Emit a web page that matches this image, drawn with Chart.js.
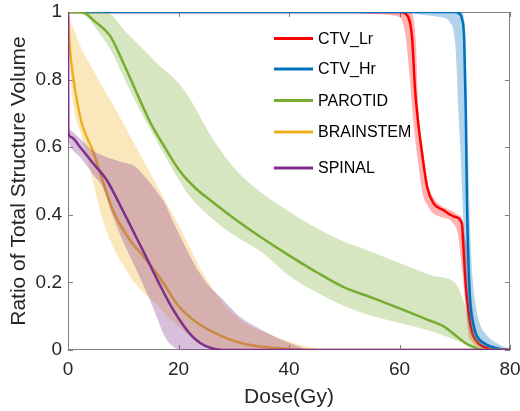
<!DOCTYPE html>
<html>
<head>
<meta charset="utf-8">
<script src="https://cdn.jsdelivr.net/npm/chart.js@4.4.0/dist/chart.umd.min.js"></script>
<style>
  body { margin: 0; background: #fff; }
</style>
</head>
<body>
<canvas id="dvh" width="520" height="411"></canvas>
<script>
// structures, in legend order
const names = ['CTV_Lr', 'CTV_Hr', 'PAROTID', 'BRAINSTEM', 'SPINAL'];
const lineColors = ['#FF0000', '#0072BD', '#77AC30', '#EDB120', '#7E2F8E'];
const bandColors = ['rgba(255,0,0,0.3)', 'rgba(0,114,189,0.3)', 'rgba(119,172,48,0.3)',
                    'rgba(237,177,32,0.3)', 'rgba(126,47,142,0.3)'];

const xTicks = [0, 20, 40, 60, 80];
const yTicks = [0, 0.2, 0.4, 0.6, 0.8, 1];

// CTV_Lr
const lrDose = [0,60,61.4,62,62.3,62.8,63.4,64.1,65,66.1,67.9,70,71.3,71.5,72,72.5,73.1,74,74.6,76.4,78,80];
const lrMean = [1,1,0.99,0.96,0.92,0.775,0.67,0.58,0.483,0.435,0.414,0.394,0.375,0.325,0.19,0.11,0.053,0.025,0.015,0.003,0,0];
const lrBandDose = [0,44,52,56,60,61,61.5,62,62.5,63,63.4,64.2,65,66,67.3,69.7,70.6,71.3,71.9,72.4,73.1,74.2,75,76.4,78,79,80];
const lrLow  = [1,1,0.997,0.993,0.985,0.94,0.87,0.775,0.675,0.6,0.55,0.46,0.43,0.405,0.395,0.375,0.34,0.24,0.14,0.053,0.025,0.01,0.003,0.001,0,0,0];
const lrHigh = [1,1,1,1,1,1,1,1,0.985,0.9,0.72,0.6,0.5,0.455,0.43,0.41,0.4,0.39,0.33,0.3,0.14,0.044,0.03,0.015,0.004,0,0];

// CTV_Hr
const hrDose = [0,70,70.8,71.3,71.7,72,72.2,72.5,72.8,73.2,73.7,74.5,75.8,78.2,80];
const hrMean = [1,1,0.995,0.98,0.92,0.7,0.45,0.25,0.142,0.09,0.053,0.03,0.015,0.003,0];
const hrBandDose = [0,58,61.4,64,67.3,69.1,70,70.4,70.6,71,71.5,71.6,72,72.4,72.8,73.2,73.7,74.5,75.8,78.2,80];
const hrLow  = [1,1,0.997,0.992,0.985,0.97,0.92,0.82,0.725,0.6,0.4,0.36,0.2,0.1,0.067,0.045,0.032,0.016,0.006,0,0];
const hrHigh = [1,1,1,1,1,1,1,1,1,1,0.995,0.99,0.9,0.6,0.35,0.22,0.142,0.08,0.044,0.015,0.003];

// PAROTID
const parDose = [0,2.5,5,7.6,10,13,15,17.5,20,23,26,30,35,40,45,50,55,60,65,68,70,72,74,75,80];
const parMean = [1,1,0.97,0.93,0.85,0.74,0.67,0.6,0.535,0.48,0.44,0.39,0.333,0.28,0.23,0.185,0.155,0.123,0.09,0.07,0.045,0.02,0.005,0,0];
const parBandDose = [0,3,6,8,10,13,16,20,22,26,30,35,40,44,50,54,58,62,66,70,71.5,73,74,75,76,80];
const parLow  = [1,0.99,0.93,0.88,0.81,0.71,0.62,0.505,0.455,0.39,0.34,0.29,0.22,0.18,0.13,0.106,0.088,0.072,0.054,0.03,0.02,0.006,0,0,0,0];
const parHigh = [1,1,1,0.99,0.95,0.9,0.85,0.79,0.745,0.63,0.54,0.465,0.41,0.37,0.32,0.296,0.27,0.245,0.22,0.2,0.15,0.06,0.03,0.01,0,0];

// BRAINSTEM
const bsDose = [0,0.3,1,2.5,4.5,6.3,8.1,11,14,17,20,23,26,29,32,36,40,45,80];
const bsMean = [1,0.9,0.8,0.67,0.59,0.5,0.414,0.33,0.27,0.205,0.13,0.085,0.055,0.033,0.018,0.008,0.003,0,0];
const bsBandDose = [0,0.5,1,2.5,4.5,6,8,10,12,14,16,18,20,22,24,28,32,36,40,44,47,80];
const bsLow  = [1,0.8,0.72,0.63,0.5,0.4,0.31,0.25,0.2,0.165,0.135,0.1,0.07,0.04,0.015,0,0,0,0,0,0,0];
const bsHigh = [1,0.97,0.95,0.89,0.83,0.785,0.73,0.67,0.61,0.55,0.49,0.43,0.37,0.305,0.24,0.14,0.08,0.05,0.025,0.008,0,0];

// SPINAL
const spDose = [0,0.05,0.5,2.2,4.5,7,10,12,14,16.7,19,21,22.5,24,26,28,80];
const spMean = [1,0.645,0.63,0.6,0.553,0.503,0.41,0.345,0.28,0.19,0.12,0.07,0.04,0.02,0.005,0,0];
const spBandDose = [0,0.5,2.2,4.5,6.3,8,10,12,14.3,16,17.5,19,20.5,23,25,28,31,35,38,41,44,80];
const spLow  = [0.62,0.6,0.57,0.52,0.48,0.4,0.32,0.25,0.168,0.1,0.04,0.01,0,0,0,0,0,0,0,0,0,0];
const spHigh = [0.655,0.65,0.625,0.59,0.575,0.565,0.555,0.545,0.505,0.47,0.435,0.38,0.33,0.25,0.2,0.15,0.1,0.06,0.035,0.015,0,0];

const structs = [
  [lrDose, lrMean, lrBandDose, lrLow, lrHigh],
  [hrDose, hrMean, hrBandDose, hrLow, hrHigh],
  [parDose, parMean, parBandDose, parLow, parHigh],
  [bsDose, bsMean, bsBandDose, bsLow, bsHigh],
  [spDose, spMean, spBandDose, spLow, spHigh]
];

function pts(xs, ys) {
  return xs.map((x, i) => ({x: x, y: ys[i]}));
}

// band then mean line for each structure, later ones drawn on top
const datasets = [];
structs.forEach((s, k) => {
  datasets.push({label: names[k] + ' low', data: pts(s[2], s[3]), borderWidth: 0,
                 pointRadius: 0, fill: false});
  datasets.push({label: names[k] + ' high', data: pts(s[2], s[4]), borderWidth: 0,
                 pointRadius: 0, fill: '-1', backgroundColor: bandColors[k]});
  datasets.push({label: names[k], data: pts(s[0], s[1]), borderColor: lineColors[k],
                 borderWidth: 2.5, pointRadius: 0, fill: false});
});
datasets.forEach((d, i) => { d.order = datasets.length - i; });

const FONT = 'Liberation Sans, Arial, Helvetica, sans-serif';
const TEXT = '#262626';
Chart.defaults.font.family = FONT;

// box round the axes with inward ticks (MATLAB style)
const boxPlugin = {
  id: 'box',
  beforeDatasetsDraw(chart) {
    const {ctx, chartArea: a, scales: {x, y}} = chart;
    ctx.save();
    ctx.strokeStyle = '#808080';
    ctx.lineWidth = 1;
    ctx.strokeRect(a.left + 0.5, a.top + 0.5, a.right - a.left - 1, a.bottom - a.top - 1);
    ctx.beginPath();
    xTicks.forEach(v => {
      const px = Math.round(x.getPixelForValue(v)) + 0.5;
      ctx.moveTo(px, a.bottom); ctx.lineTo(px, a.bottom - 5);
      ctx.moveTo(px, a.top); ctx.lineTo(px, a.top + 5);
    });
    yTicks.forEach(v => {
      const py = Math.round(y.getPixelForValue(v)) + 0.5;
      ctx.moveTo(a.left, py); ctx.lineTo(a.left + 5, py);
      ctx.moveTo(a.right, py); ctx.lineTo(a.right - 5, py);
    });
    ctx.stroke();
    ctx.restore();
  }
};

// legend inside the plot, no frame
const legendPlugin = {
  id: 'innerLegend',
  afterDraw(chart) {
    const ctx = chart.ctx;
    const rows = [38.5, 69, 100.5, 132, 168];
    ctx.save();
    ctx.font = '16px ' + FONT;
    ctx.textBaseline = 'middle';
    ctx.textAlign = 'left';
    names.forEach((n, k) => {
      ctx.strokeStyle = lineColors[k];
      ctx.lineWidth = 3;
      ctx.beginPath();
      ctx.moveTo(274, rows[k]);
      ctx.lineTo(313, rows[k]);
      ctx.stroke();
      ctx.fillStyle = '#000';
      ctx.fillText(n, 318, rows[k] + 1);
    });
    ctx.restore();
  }
};

new Chart(document.getElementById('dvh').getContext('2d'), {
  type: 'line',
  data: {datasets: datasets},
  plugins: [boxPlugin, legendPlugin],
  options: {
    responsive: false,
    animation: false,
    layout: {padding: {top: 12, right: 10, left: 0, bottom: 0}},
    plugins: {legend: {display: false}, tooltip: {enabled: false}},
    elements: {line: {tension: 0, cubicInterpolationMode: 'monotone'}, point: {radius: 0}},
    scales: {
      x: {
        type: 'linear', min: 0, max: 80,
        afterFit: s => { s.height = 61; s.paddingLeft = 0; s.paddingRight = 0; },
        grid: {display: false, drawTicks: false},
        border: {display: false},
        ticks: {stepSize: 20, maxRotation: 0, padding: 8, color: TEXT, font: {size: 19}},
        title: {display: true, text: 'Dose(Gy)', color: TEXT, font: {size: 21},
                padding: {top: 0, bottom: 1}}
      },
      y: {
        type: 'linear', min: 0, max: 1,
        afterFit: s => { s.width = 68; s.paddingTop = 0; s.paddingBottom = 0; },
        grid: {display: false, drawTicks: false},
        border: {display: false},
        ticks: {stepSize: 0.2, padding: 6, color: TEXT, font: {size: 19},
                callback: v => String(Math.round(v * 10) / 10)},
        title: {display: true, text: 'Ratio of Total Structure Volume', color: TEXT,
                font: {size: 21}, padding: {top: 7, bottom: 0}}
      }
    }
  }
});
</script>
</body>
</html>
